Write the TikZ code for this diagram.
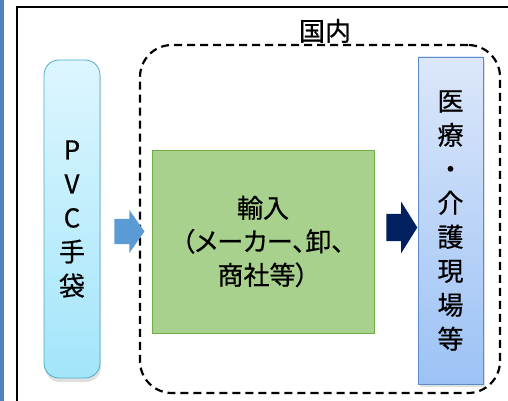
\documentclass[tikz,border=0pt]{standalone}
\usepackage{fontspec}
\setmainfont{Noto Sans CJK JP}[FakeBold=0.6]
\newfontfamily\jpprop{Noto Sans CJK JP}[RawFeature=+palt, FakeBold=0.6]
\usepackage{xcolor}
\usepackage{tikz}
\usetikzlibrary{shapes,shadows,positioning}
\definecolor{barblue}{HTML}{4F81BD}
\definecolor{pvctop}{HTML}{DDF6FF}
\definecolor{pvcbottom}{HTML}{A3E5F9}
\definecolor{pvcedge}{HTML}{4BACC6}
\definecolor{importfill}{HTML}{A9D18E}
\definecolor{importedge}{HTML}{70AD47}
\definecolor{sitetop}{HTML}{DCE7FA}
\definecolor{sitebottom}{HTML}{9CC2F5}
\definecolor{siteedge}{HTML}{5A8CC8}
\definecolor{arrowlight}{HTML}{5B9BD5}
\definecolor{arrowdark}{HTML}{002060}
\tikzset{
	basic/.style = {rectangle, inner sep=0pt, align=center},
	source/.style = {basic, draw=pvcedge, thick, rounded corners=15pt, top color=pvctop, bottom color=pvcbottom,
		drop shadow={shadow xshift=1pt, shadow yshift=-4pt, opacity=0.25}},
	stage/.style = {basic, draw=importedge, thin, fill=importfill},
	target/.style = {basic, draw=siteedge, thick, top color=sitetop, bottom color=sitebottom,
		drop shadow={shadow xshift=2pt, shadow yshift=-3pt, opacity=0.25}},
	region/.style = {basic, draw, line width=2.2pt, dash pattern=on 8pt off 5pt, rounded corners=32pt},
	flow/.style = {single arrow, draw=none, inner sep=0pt, single arrow head indent=0pt},
	big/.style = {font=\fontsize{26}{34}\selectfont}
}
\begin{document}
\begin{tikzpicture}[x=1pt,y=-1pt]
	\useasboundingbox (0,0) rectangle (508,401);
	% side bar and outer frame
	\fill[barblue] (0,0) rectangle (4,401);
	\draw[line width=1.6pt] (17,7) rectangle (515,410);
	
	% the domestic region
	\node[region, minimum width=360pt, minimum height=348pt] (dom) at (320,219) {};
	\node[big] (domlabel) at ([xshift=5pt,yshift=13pt]dom.north) {国内};
	
	% boxes
	\node[source, big, minimum width=56pt, minimum height=318pt] (pvc) at (72,219)
		{P\\V\\C\\手\\袋};
	\node[stage, font=\fontsize{26}{33.5}\selectfont, minimum width=222pt, minimum height=183pt] (import) at (263,241.5)
		{\jpprop 輸入\\\jpprop （メーカー、卸、\\\jpprop 商社等）};
	\node[target, big, minimum width=65pt, minimum height=327pt] (site) at (450.5,220.5)
		{医\\療\\・\\介\\護\\現\\場\\等};
	
	% block arrows
	\node[flow, fill=arrowlight, minimum height=30pt, text height=25pt, text depth=0pt,
		single arrow head extend=9pt, single arrow tip angle=110] (in) at (125,231.5) {};
	\node[flow, fill=arrowdark, minimum height=31pt, text height=27pt, text depth=0pt,
		single arrow head extend=12pt, single arrow tip angle=116] (out) at (397.5,227.5) {};
\end{tikzpicture}
\end{document}
